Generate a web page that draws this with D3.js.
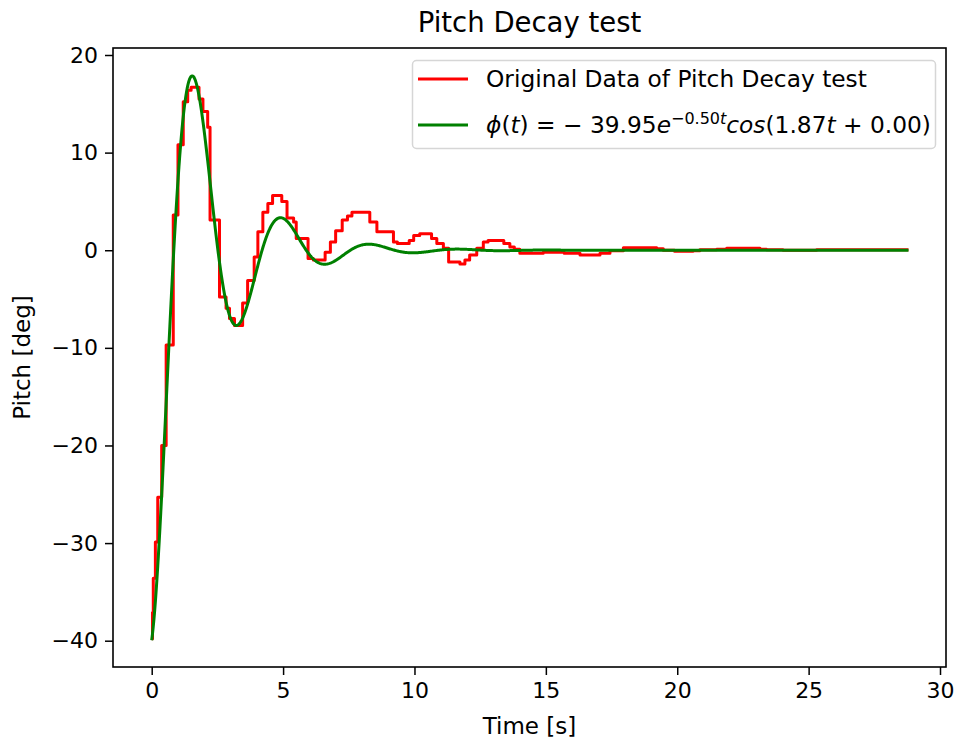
<!DOCTYPE html>
<html>
<head>
<meta charset="utf-8">
<script src="https://cdn.jsdelivr.net/npm/d3@7"></script>
<style>
  html, body { margin: 0; padding: 0; background: #fff; }
  svg text { font-family: "DejaVu Sans", sans-serif; fill: #000; }
</style>
</head>
<body>
<svg id="chart" width="955" height="745"></svg>
<script>
// Recorded pitch samples (held value starting at each time stamp)
const sampleTime = [0.00, 0.03, 0.06, 0.14, 0.23, 0.38, 0.55, 0.82, 1.00, 1.20, 1.37, 1.50,
  1.80, 1.95, 2.13, 2.22, 2.58, 2.83, 2.96, 3.15, 3.46, 3.65, 3.90, 4.04, 4.23, 4.42, 4.60,
  4.95, 5.15, 5.40, 5.50, 5.95, 6.15, 6.60, 6.80, 7.00, 7.25, 7.45, 7.62, 8.30, 8.57, 9.20,
  9.35, 9.80, 9.97, 10.20, 10.65, 10.85, 11.10, 11.30, 11.73, 11.92, 12.10, 12.37, 12.62,
  12.80, 13.40, 13.63, 13.80, 14.01, 14.65, 14.90, 15.70, 16.30, 16.80, 17.06, 17.44, 17.95,
  19.22, 19.47, 19.90, 20.60, 20.86, 21.50, 21.88, 23.15, 23.40, 24.03, 25.30, 28.80];
const samplePitch = [-39.8, -37.1, -33.6, -29.9, -25.3, -20.0, -9.7, 3.6, 10.8, 15.2, 16.4, 16.7,
  15.5, 14.2, 12.6, 3.1, -4.8, -5.95, -7.0, -7.7, -5.4, -3.1, -0.7, 1.9, 3.9, 4.8, 5.6,
  5.0, 3.3, 2.9, 1.2, -0.85, -1.0, -0.2, 0.85, 2.0, 3.1, 3.5, 3.9, 2.9, 1.9, 0.85,
  0.7, 1.0, 1.5, 1.7, 1.2, 0.7, 0.2, -1.2, -1.4, -1.0, -0.5, 0.2, 0.85,
  1.0, 0.7, 0.34, 0.1, -0.3, -0.3, -0.2, -0.3, -0.5, -0.5, -0.3, -0.05, 0.25,
  0.15, 0.0, -0.1, -0.05, 0.05, 0.1, 0.2, 0.1, 0.05, 0.0, 0.05, 0.05];

// Fitted decay model parameters: phi(t) = A e^{-zeta t} cos(omega t + phase)
const fitAmplitude = -39.95;
const fitDecay = 0.50;
const fitOmega = 1.87;
const fitPhase = 0.00;
const fitEnd = 28.8;

const xTicks = [0, 5, 10, 15, 20, 25, 30];
const yTicks = [-40, -30, -20, -10, 0, 10, 20];

const titleText = "Pitch Decay test";
const xLabel = "Time [s]";
const yLabel = "Pitch [deg]";
const legendData = "Original Data of Pitch Decay test";

const svg = d3.select("#chart");
const plot = { left: 113, top: 48, right: 946, bottom: 667 };

const x = d3.scaleLinear().domain([-1.473, 30.228]).range([plot.left, plot.right]);
const y = d3.scaleLinear().domain([-42.694, 20.717]).range([plot.bottom, plot.top]);

const tickFont = 22;
const labelFont = 23;
const legendFont = 23.3;

// Data curves, clipped to the axes area
svg.append("clipPath").attr("id", "clip")
  .append("rect").attr("x", plot.left).attr("y", plot.top)
  .attr("width", plot.right - plot.left).attr("height", plot.bottom - plot.top);

const g = svg.append("g").attr("clip-path", "url(#clip)");

const stepLine = d3.line()
  .x(d => x(d[0])).y(d => y(d[1]))
  .curve(d3.curveStepAfter);

g.append("path")
  .datum(sampleTime.map((t, i) => [t, samplePitch[i]]))
  .attr("d", stepLine)
  .attr("fill", "none").attr("stroke", "#ff0000")
  .attr("stroke-width", 3).attr("stroke-linejoin", "round");

const fitCurve = d3.range(0, 1001).map(i => {
  const t = fitEnd * i / 1000;
  return [t, fitAmplitude * Math.exp(-fitDecay * t) * Math.cos(fitOmega * t + fitPhase)];
});
g.append("path")
  .datum(fitCurve)
  .attr("d", d3.line().x(d => x(d[0])).y(d => y(d[1])))
  .attr("fill", "none").attr("stroke", "#008000")
  .attr("stroke-width", 3).attr("stroke-linejoin", "round");

// Axes
const fmt = d => d < 0 ? "\u2212" + Math.abs(d) : String(d);
const xAxis = svg.append("g").attr("transform", `translate(0,${plot.bottom})`)
  .call(d3.axisBottom(x).tickValues(xTicks).tickFormat(fmt).tickSizeInner(8).tickSizeOuter(0).tickPadding(7));
const yAxis = svg.append("g").attr("transform", `translate(${plot.left},0)`)
  .call(d3.axisLeft(y).tickValues(yTicks).tickFormat(fmt).tickSizeInner(8).tickSizeOuter(0).tickPadding(7));
[xAxis, yAxis].forEach(a => {
  a.select(".domain").remove();
  a.selectAll(".tick line").attr("stroke", "#000").attr("stroke-width", 1.5);
  a.selectAll(".tick text").attr("font-size", tickFont).attr("font-family", "DejaVu Sans").attr("fill", "#000");
});

svg.append("rect")
  .attr("x", plot.left).attr("y", plot.top)
  .attr("width", plot.right - plot.left).attr("height", plot.bottom - plot.top)
  .attr("fill", "none").attr("stroke", "#000").attr("stroke-width", 1.6);

// Titles
svg.append("text").attr("x", (plot.left + plot.right) / 2).attr("y", 32)
  .attr("text-anchor", "middle").attr("font-size", 27.5).text(titleText);
svg.append("text").attr("x", (plot.left + plot.right) / 2).attr("y", 734)
  .attr("text-anchor", "middle").attr("font-size", labelFont).text(xLabel);
svg.append("text")
  .attr("transform", `translate(30,${(plot.top + plot.bottom) / 2}) rotate(-90)`)
  .attr("text-anchor", "middle").attr("font-size", labelFont).text(yLabel);

// Legend
const lg = svg.append("g");
lg.append("rect").attr("x", 412.5).attr("y", 60.5).attr("width", 523).attr("height", 88)
  .attr("rx", 4).attr("fill", "#fff").attr("fill-opacity", 0.8)
  .attr("stroke", "#d6d6d6").attr("stroke-width", 1.5);
lg.append("line").attr("x1", 418).attr("x2", 468).attr("y1", 79).attr("y2", 79)
  .attr("stroke", "#ff0000").attr("stroke-width", 3);
lg.append("line").attr("x1", 418).attr("x2", 468).attr("y1", 125).attr("y2", 125)
  .attr("stroke", "#008000").attr("stroke-width", 3);
lg.append("text").attr("x", 486).attr("y", 87).attr("font-size", legendFont).text(legendData);

const eq = lg.append("text").attr("x", 486).attr("y", 133).attr("font-size", legendFont);
const parts = [
  ["\u03d5", "italic"], ["(", ""], ["t", "italic"], [")", ""], [" = \u2212 39.95", ""],
  ["e", "italic"], ["\u22120.50", "sup"], ["t", "supi"], ["cos", "italic"],
  ["(1.87", ""], ["t", "italic"], [" + 0.00)", ""]
];
parts.forEach(([txt, style]) => {
  const ts = eq.append("tspan").text(txt);
  if (style === "italic") ts.attr("font-style", "italic");
  if (style === "sup") ts.attr("font-size", 16).attr("dy", -9);
  if (style === "supi") ts.attr("font-size", 16).attr("font-style", "italic");
  if (style === "italic" && txt === "cos") ts.attr("dy", 9);
});
</script>
</body>
</html>
